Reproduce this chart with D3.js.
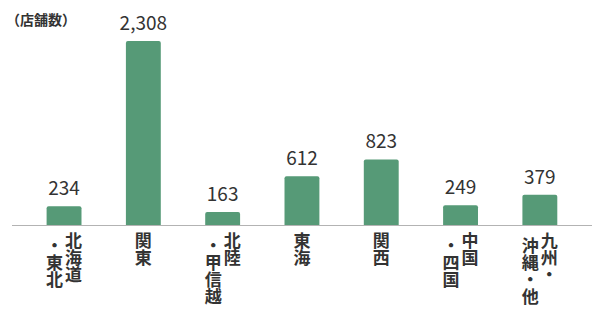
<!DOCTYPE html>
<html>
<head>
<meta charset="utf-8">
<script src="https://cdn.jsdelivr.net/npm/d3@7"></script>
<style>
  html, body { margin: 0; padding: 0; background: #fff; }
  svg { display: block; font-family: "Noto Sans CJK JP", "Noto Sans", sans-serif; }
</style>
</head>
<body>
<div id="chart"></div>
<script>
// chart data
const regions = ["北海道・東北", "関東", "北陸・甲信越", "東海", "関西", "中国・四国", "九州・沖縄・他"];
// how each vertical label breaks into columns (right to left)
const regionLabelLines = [
  ["北海道", "・東北"],
  ["関東"],
  ["北陸", "・甲信越"],
  ["東海"],
  ["関西"],
  ["中国", "・四国"],
  ["九州・", "沖縄・他"]
];
const storeCounts = [234, 2308, 163, 612, 823, 249, 379];
const unitLabel = "（店舗数）";

const width = 598, height = 319;
const baseY = 225;
const barColour = "#569a77";

const data = regions.map((r, i) => ({ region: r, lines: regionLabelLines[i], count: storeCounts[i] }));

const svg = d3.select("#chart")
  .append("svg")
  .attr("width", width)
  .attr("height", height);

// Scales
const xScale = d3.scaleBand()
  .domain(regions)
  .range([24.4, 579.5])
  .paddingInner(0.56)
  .paddingOuter(0.28);

const yScale = d3.scaleLinear()
  .domain([0, d3.max(storeCounts)])
  .range([baseY, 41]);

// Unit label
svg.append("text")
  .attr("x", 6)
  .attr("y", 24.5)
  .attr("font-size", 14)
  .attr("font-weight", 700)
  .attr("fill", "#333")
  .text(unitLabel);

// Bars with slightly rounded top corners
const r = 2;
svg.selectAll(".bar")
  .data(data)
  .enter()
  .append("path")
  .attr("class", "bar")
  .attr("fill", barColour)
  .attr("d", d => {
    const x0 = xScale(d.region), x1 = x0 + xScale.bandwidth();
    const y0 = yScale(d.count);
    return `M${x0},${baseY}V${y0 + r}Q${x0},${y0} ${x0 + r},${y0}H${x1 - r}Q${x1},${y0} ${x1},${y0 + r}V${baseY}Z`;
  });

// Baseline
svg.append("line")
  .attr("x1", 12)
  .attr("x2", 592)
  .attr("y1", baseY + 0.5)
  .attr("y2", baseY + 0.5)
  .attr("stroke", "#b3b3b3")
  .attr("stroke-width", 1);

// Value labels
svg.selectAll(".value")
  .data(data)
  .enter()
  .append("text")
  .attr("class", "value")
  .attr("x", d => xScale(d.region) + xScale.bandwidth() / 2)
  .attr("y", d => yScale(d.count) - 11)
  .attr("text-anchor", "middle")
  .attr("font-size", 19)
  .attr("font-weight", 400)
  .attr("fill", "#333")
  .text(d => d3.format(",")(d.count));

// Vertical category labels
const colGap = 19;
const labelGroups = svg.selectAll(".cat")
  .data(data)
  .enter()
  .append("g")
  .attr("class", "cat")
  .attr("transform", d => `translate(${xScale(d.region) + xScale.bandwidth() / 2},0)`);

labelGroups.each(function(d) {
  const n = d.lines.length;
  d3.select(this).selectAll("text")
    .data(d.lines)
    .enter()
    .append("text")
    .attr("x", (line, i) => ((n - 1) / 2 - i) * colGap)
    .attr("y", (line, i) => 232 + (i > 0 ? 5.5 : 0))
    .attr("font-size", 17)
    .attr("font-weight", 700)
    .attr("fill", "#333")
    .style("writing-mode", "vertical-rl")
    .attr("text-anchor", "start")
    .text(line => line);
});
</script>
</body>
</html>
